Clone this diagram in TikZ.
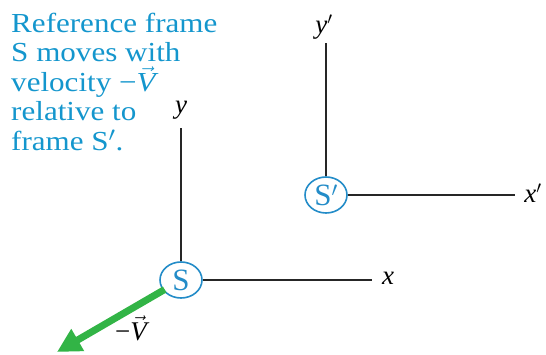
\documentclass[tikz,border=0pt]{standalone}
\usepackage{fontspec}
\setmainfont{Liberation Serif}
\usetikzlibrary{shapes.geometric,arrows.meta}
\definecolor{capblue}{RGB}{20,150,205}
\definecolor{ringblue}{RGB}{35,140,200}
\definecolor{vgreen}{RGB}{50,180,70}
\tikzset{
  axis/.style={line width=1.6pt, draw=black!85},
  origin/.style={ellipse, draw=ringblue, line width=1.6pt, fill=white, minimum width=42pt, minimum height=36pt, inner sep=0pt, text=ringblue, font=\fontsize{31}{31}\selectfont},
  axlabel/.style={font=\fontsize{27}{27}\selectfont\itshape, inner sep=0pt},
  vecarrow/.style={draw=vgreen, line width=7pt, -{Triangle[length=24pt,width=24pt]}, shorten <=-2pt},
}
\newcommand{\vecV}{\ensuremath{\vec{\textit{V}}}}
\begin{document}
\begin{tikzpicture}[x=1pt,y=1pt]
\useasboundingbox (0,0) rectangle (546,-355);
% caption
\node[anchor=north west, inner sep=0pt, align=left, text=capblue, xscale=1.13, transform shape,
      font=\fontsize{27.5}{29.4}\selectfont] (cap) at (11,-13)
  {Reference frame\\S moves with\\velocity −\vecV\\relative to\\frame S$'$.};
% frame S
\node[origin] (S) at (181,-280) {S};
\coordinate (Sy) at (181,-128);
\coordinate (Sx) at (372,-280);
\draw[axis] (S) -- (Sy);
\draw[axis] (S) -- (Sx);
\node[axlabel] (ylab) at (181,-110) {y};
\node[axlabel] (xlab) at (388,-278) {x};
% frame S'
\node[origin] (Sp) at (326,-195) {S$'$};
\coordinate (Spy) at (326,-43);
\coordinate (Spx) at (515,-195);
\draw[axis] (Sp) -- (Spy);
\draw[axis] (Sp) -- (Spx);
\node[axlabel] (yplab) at (324,-27) {y$'$};
\node[axlabel] (xplab) at (533,-193) {x$'$};
% velocity arrow
\coordinate (tip) at (57,-352);
\draw[vecarrow] (S) -- (tip);
\node[font=\fontsize{27}{27}\selectfont, inner sep=0pt] (vlab) at (131,-328) {−\vecV};
\end{tikzpicture}
\end{document}
